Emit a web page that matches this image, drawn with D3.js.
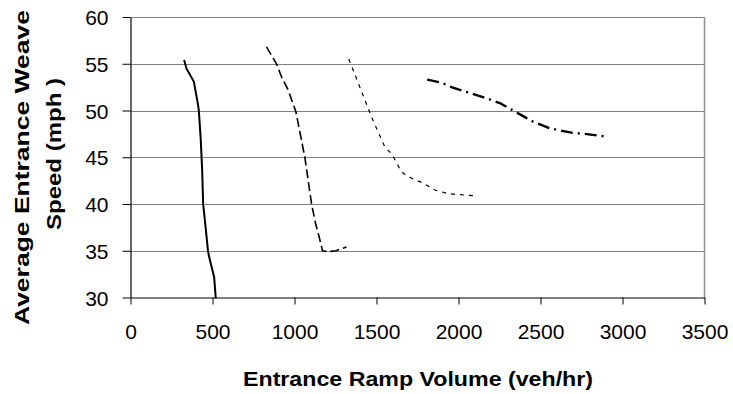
<!DOCTYPE html>
<html>
<head>
<meta charset="utf-8">
<script src="https://cdn.jsdelivr.net/npm/d3@7"></script>
<style>
  body { margin: 0; background: #fff; }
  svg { display: block; font-family: Arial, "Liberation Sans", sans-serif; }
</style>
</head>
<body>
<svg></svg>
<script>
// data: [volume, speed]
const series1 = [[327,55.4],[341,54.5],[386,53.1],[412,50.6],[417,49.9],[428,47],[437,43.6],[443,40],[458,37.5],[473,34.9],[484,34],[510,32.2],[520,29.9]];
const series2 = [[829,56.8],[890,55],[921,53.6],[961,52.2],[1008,49.9],[1035,47.5],[1063,45],[1104,40],[1130,37.8],[1150,36.5],[1171,35],[1205,34.9],[1252,35],[1317,35.4]];
const series3 = [[1331,55.5],[1394,52.7],[1470,49.3],[1500,48.1],[1551,46.1],[1595,45.3],[1653,43.4],[1709,42.8],[1789,42.2],[1856,41.5],[1937,41.1],[2002,41],[2090,40.9]];
const series4 = [[1809,53.3],[1892,53],[1957,52.5],[2028,52.1],[2100,51.7],[2154,51.4],[2252,50.8],[2343,49.9],[2394,49.4],[2455,48.8],[2557,48.1],[2640,47.8],[2699,47.6],[2770,47.5],[2903,47.2]];

const xTicks = [0, 500, 1000, 1500, 2000, 2500, 3000, 3500];
const yTicks = [30, 35, 40, 45, 50, 55, 60];

const width = 733;
const height = 394;
const plotLeft = 130.5, plotRight = 704.5, plotTop = 17, plotBottom = 297.5;

let svg = d3.select("svg").attr("width", width).attr("height", height);

let xScale = d3.scaleLinear().domain([0, 3500]).range([plotLeft, plotRight]);
let yScale = d3.scaleLinear().domain([30, 60]).range([plotBottom, plotTop]);

// gridlines
svg.append("g")
  .selectAll("line")
  .data(yTicks.filter(d => d > 30))
  .enter()
  .append("line")
  .attr("x1", plotLeft)
  .attr("x2", plotRight)
  .attr("y1", d => Math.round(yScale(d)) + 0.5)
  .attr("y2", d => Math.round(yScale(d)) + 0.5)
  .attr("stroke", "#808080")
  .attr("stroke-width", 1.2);

// right border
svg.append("line")
  .attr("x1", plotRight).attr("x2", plotRight)
  .attr("y1", plotTop).attr("y2", plotBottom)
  .attr("stroke", "#909090")
  .attr("stroke-width", 1.5);

// axes
let xAxis = d3.axisBottom(xScale).tickValues(xTicks).tickFormat(d3.format("d")).tickSize(7).tickSizeOuter(0);
let gx = svg.append("g")
  .attr("transform", "translate(0," + plotBottom + ")")
  .call(xAxis);
gx.select(".domain").attr("stroke", "#000").attr("stroke-width", 1.2);
gx.selectAll(".tick line").attr("stroke", "#000");
gx.selectAll("text")
  .attr("font-size", 21)
  .attr("font-family", "Arial, 'Liberation Sans', sans-serif")
  .attr("fill", "#000")
  .attr("y", 41.5)
  .attr("dy", 0);

let yAxis = d3.axisLeft(yScale).tickValues(yTicks).tickFormat(d3.format("d")).tickSize(8).tickSizeOuter(0);
let gy = svg.append("g")
  .attr("transform", "translate(" + plotLeft + ",0)")
  .call(yAxis);
gy.select(".domain").attr("stroke", "#000").attr("stroke-width", 1.2);
gy.selectAll(".tick line").attr("stroke", "#000");
gy.selectAll("text")
  .attr("font-size", 21)
  .attr("font-family", "Arial, 'Liberation Sans', sans-serif")
  .attr("fill", "#000")
  .attr("x", -22)
  .attr("dy", "0.36em");

// lines
let line = d3.line()
  .x(d => xScale(d[0]))
  .y(d => yScale(d[1]))
  .curve(d3.curveLinear);

let styles = [
  { data: series1, w: 2, dash: null },
  { data: series2, w: 1.6, dash: "9,4" },
  { data: series3, w: 1.2, dash: "4,5" },
  { data: series4, w: 2.4, dash: "12,5,2,5" }
];

styles.forEach(s => {
  svg.append("path")
    .datum(s.data)
    .attr("d", line)
    .attr("fill", "none")
    .attr("stroke", "#000")
    .attr("stroke-width", s.w)
    .attr("stroke-dasharray", s.dash);
});

// axis titles
svg.append("text")
  .attr("x", 243)
  .attr("y", 386)
  .attr("font-size", 21)
  .attr("font-weight", "bold")
  .attr("textLength", 350)
  .attr("lengthAdjust", "spacingAndGlyphs")
  .text("Entrance Ramp Volume (veh/hr)");

svg.append("text")
  .attr("transform", "translate(29,325) rotate(-90)")
  .attr("font-size", 21)
  .attr("font-weight", "bold")
  .attr("textLength", 315)
  .attr("lengthAdjust", "spacingAndGlyphs")
  .text("Average Entrance Weave");

svg.append("text")
  .attr("transform", "translate(61,230) rotate(-90)")
  .attr("font-size", 21)
  .attr("font-weight", "bold")
  .attr("textLength", 152)
  .attr("lengthAdjust", "spacingAndGlyphs")
  .text("Speed (mph )");
</script>
</body>
</html>
